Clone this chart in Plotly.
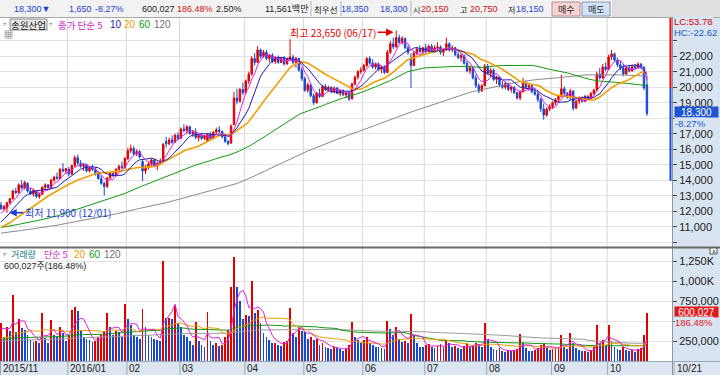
import plotly.graph_objects as go
import pandas as pd

W, H = 720, 375
FONT = "Liberation Sans, Noto Sans CJK KR, sans-serif"
KFONT = "Noto Sans CJK KR, Liberation Sans, sans-serif"
RED = "#e00000"
BLUE = "#1848d0"

# ---------------- data ----------------
holidays = ["2015-12-25", "2015-12-31", "2016-01-01", "2016-02-08", "2016-02-09", "2016-02-10",
            "2016-03-01", "2016-04-13", "2016-05-05", "2016-05-06", "2016-06-06", "2016-08-15",
            "2016-09-14", "2016-09-15", "2016-09-16", "2016-10-03"]
dates = [d for d in pd.bdate_range("2015-11-27", "2016-10-21") if d.strftime("%Y-%m-%d") not in holidays]

# prices in hundreds of won
opens_h = [124, 121.5, 122, 125.5, 128, 133, 132, 137, 135, 138,
           133, 131, 133, 129.5, 131, 135.5, 137, 135, 140, 142,
           141, 147, 146, 147, 144, 149.5, 154.5, 151, 149, 150,
           146, 148, 147, 144, 141, 138, 136, 141.5, 144.5, 143,
           147, 149, 148, 154, 159, 160.5, 157, 158.5, 152, 146,
           148, 150.5, 153, 149, 151, 152, 165, 163.5, 166, 164.5,
           169, 167, 173, 172, 174.5, 170, 171, 167.5, 169, 167,
           165.5, 169.5, 167, 171, 172.5, 171.5, 168, 165, 164, 176,
           193, 191, 198.5, 196.5, 204, 208.5, 218.5, 216, 224, 220,
           222.5, 218.5, 220.5, 216.5, 219, 216, 218.5, 215, 218, 219.5,
           216, 218.5, 211, 205.5, 198, 201.5, 194.5, 190, 196, 194,
           200.5, 198.5, 200, 197, 199.5, 196, 198, 195, 196.5, 192.5,
           202, 206.5, 210, 211, 214, 218.5, 215.5, 213, 215, 211.5,
           213, 209.5, 222.5, 228, 226, 232, 229, 231.5, 225.5, 218,
           214, 222, 224.5, 223, 225.5, 223, 226.5, 223.5, 225.5, 226,
           222.5, 224, 228, 224, 225.5, 221, 219, 220.5, 215.5, 210.5,
           212.5, 206, 201, 197.5, 201, 213.5, 209, 211, 205, 206.5,
           201.5, 200, 202.5, 198.5, 200, 196.5, 193, 197, 203, 200,
           201, 197, 195.5, 192, 186, 182, 186, 187.5, 190, 192,
           194, 199, 196, 193.5, 197.5, 186.5, 191, 192.5, 191, 194,
           192.5, 196, 198, 208.5, 206, 213, 211.5, 219.5, 221.5, 217.5,
           214.5, 212.5, 208.5, 212.5, 210.5, 213.5, 212.5, 215, 213, 201.5]
highs_h = [126, 124, 126, 128.5, 134, 135, 138, 140, 139.5, 138.5,
           135, 134, 133.5, 132, 136, 138, 137.5, 141, 143, 145,
           148, 151, 148, 148.5, 150, 156, 156.5, 153, 151, 150.5,
           149, 150, 148, 146, 143, 139, 142, 145, 146, 148,
           150, 152, 155, 161, 163, 162, 160, 159.5, 153, 150,
           152, 154, 153.5, 152, 154, 164, 168, 167.5, 169, 170,
           171, 174, 176, 175.5, 175, 172, 173.5, 170, 170, 169.5,
           170, 171, 171.5, 174, 175, 172, 168.5, 166, 176, 197,
           199, 199.5, 203, 205, 210, 220, 222, 226.5, 225, 224,
           224, 221.5, 222, 220, 220.5, 219.5, 220, 219, 231, 221,
           219.5, 219, 213, 207, 203, 202, 196, 197, 199, 201.5,
           202, 201, 200.5, 200.5, 200, 198.5, 198.5, 197, 197, 203,
           207.5, 211, 213, 215, 219.5, 220, 218, 216, 216, 214,
           214, 224, 230, 232, 236.5, 234, 233, 232, 227, 222,
           223, 226, 227, 226, 228, 227.5, 228, 227, 229, 227,
           225, 232, 229, 227, 226, 223.5, 222, 221, 217, 214,
           213, 208, 202.5, 202, 215, 215, 212.5, 212, 207.5, 207,
           204, 203.5, 203, 201, 200.5, 197, 198, 206, 204, 202,
           201.5, 199.5, 198, 193, 189.5, 187, 189, 191, 193, 195,
           208, 200.5, 197, 199, 198, 192, 194, 194, 195, 195,
           197, 199, 210, 212.5, 215, 216, 221, 224, 222.5, 219,
           217, 215, 213.5, 214, 214.5, 215, 216, 215.5, 213.5, 207.5]
lows_h = [121, 120.5, 119, 124.5, 127.5, 131, 131.5, 134, 134, 132,
          130.5, 129.5, 128.5, 128, 130.5, 134, 134.5, 134.5, 139, 140.5,
          140.5, 145, 144, 142.5, 143.5, 148.5, 150, 148, 146, 145,
          145, 146, 143, 140.5, 137, 130, 135, 140.5, 142, 142.5,
          145.5, 147, 147.5, 153, 157.5, 156, 155.5, 154, 139.5, 144,
          147, 149, 148.5, 146.5, 150, 151.5, 161, 162.5, 163.5, 164,
          166, 166.5, 171, 170, 169.5, 168, 166.5, 165, 166, 166,
          165, 166, 166.5, 170, 170.5, 167, 164, 162.5, 163.5, 175.5,
          189, 190, 195, 196, 202, 207.5, 214, 215.5, 218.5, 219,
          217.5, 216, 215.5, 215, 215, 215.5, 214, 214.5, 217, 215,
          212.5, 210, 204, 197, 196.5, 193.5, 188.5, 189.5, 193, 193.5,
          197.5, 197, 196.5, 196, 195.5, 194, 194.5, 193, 191, 192,
          201, 205, 208.5, 210, 213, 214.5, 212, 211.5, 210.5, 209,
          208.5, 209, 221.5, 224.5, 225.5, 228, 227.5, 224.5, 221, 199.5,
          213.5, 220.5, 222, 221.5, 222, 222.5, 222.5, 222, 224, 221,
          220, 223.5, 223, 222.5, 220, 218, 216.5, 214.5, 209.5, 208.5,
          205, 199.5, 196, 197, 200.5, 208, 206.5, 204, 202, 200,
          199, 198.5, 197.5, 196.5, 195.5, 192, 191.5, 196.5, 199, 197.5,
          196, 194.5, 190.5, 184, 179, 181, 184.5, 186, 188.5, 190.5,
          193.5, 194.5, 192.5, 191.5, 185, 186, 189, 190, 190.5, 191.5,
          192, 195, 197.5, 205, 205.5, 210.5, 211, 217.5, 216.5, 213,
          211, 207, 208, 209.5, 210, 211.5, 212, 211.5, 198, 181.5]
closes_h = [121.5, 123, 125.5, 128, 133, 132, 137, 135, 138.5, 133,
            131, 133.5, 129.5, 131, 135.5, 137, 135, 140, 142, 141,
            147, 146, 147.5, 144, 149.5, 154.5, 151, 149, 150, 146,
            148, 147, 144, 141, 138, 136, 141.5, 144.5, 143, 147,
            149, 148, 154, 159, 160.5, 157, 158.5, 155, 146, 148,
            150.5, 153, 149, 151, 152, 163, 163.5, 166, 164.5, 169,
            167, 173, 172, 174.5, 170, 171, 167.5, 169, 167, 168.5,
            169.5, 167, 171, 172.5, 171.5, 168, 165, 163.5, 175, 193,
            191, 198.5, 196.5, 204, 208.5, 218.5, 216, 224, 220, 222.5,
            218.5, 220.5, 216.5, 219, 216, 218.5, 215, 218, 219.5, 216,
            218.5, 211, 205.5, 198, 201.5, 194.5, 190, 196, 194, 200.5,
            198.5, 200, 197, 199.5, 196, 198, 195, 196.5, 192.5, 202,
            206.5, 210, 211, 214, 218.5, 215.5, 213, 215, 211.5, 213,
            209.5, 222.5, 228, 226, 232, 229, 231.5, 225.5, 222.5, 214,
            222, 224.5, 223, 225.5, 223, 226.5, 223.5, 225.5, 226, 222.5,
            224, 228, 224, 225.5, 221, 219, 220.5, 215.5, 210.5, 212.5,
            206, 201, 197.5, 201, 213.5, 209, 211, 205, 206.5, 201.5,
            200, 202.5, 198.5, 200, 196.5, 193, 197, 203, 200, 201,
            197, 195.5, 192, 186, 182, 186, 187.5, 190, 192, 194,
            199, 196, 193.5, 197.5, 186.5, 191, 192.5, 191, 194, 192.5,
            196, 198, 208.5, 206, 213, 211.5, 219.5, 221.5, 217.5, 214.5,
            212.5, 208.5, 212.5, 210.5, 213.5, 212.5, 215, 213, 199.5, 183]
# volume in thousands of shares
volumes_k = [475, 300, 420, 380, 825, 360, 520, 410, 390, 330,
             260, 240, 250, 220, 600, 290, 230, 510, 320, 300,
             420, 350, 250, 330, 640, 680, 620, 390, 300, 280,
             260, 240, 250, 300, 330, 380, 600, 420, 330, 380,
             360, 300, 710, 520, 450, 330, 300, 280, 650, 420,
             330, 300, 280, 260, 250, 1250, 540, 540, 520, 700,
             480, 420, 330, 300, 250, 200, 490, 250, 200, 180,
             610, 250, 200, 220, 190, 200, 300, 390, 925, 1300,
             930, 750, 520, 580, 560, 1000, 600, 640, 470, 350,
             300, 260, 220, 230, 200, 190, 240, 250, 660, 350,
             300, 420, 380, 360, 280, 300, 260, 280, 200, 230,
             180, 160, 150, 170, 160, 150, 130, 150, 200, 490,
             300, 260, 230, 260, 300, 220, 200, 180, 170, 160,
             150, 500, 400, 320, 420, 280, 240, 250, 220, 590,
             330, 220, 180, 170, 200, 210, 180, 160, 190, 210,
             180, 260, 220, 170, 190, 160, 150, 190, 220, 170,
             200, 230, 210, 180, 475, 260, 180, 150, 140, 160,
             120, 110, 130, 120, 140, 150, 340, 220, 160, 130,
             120, 140, 160, 200, 220, 180, 140, 150, 160, 170,
             320, 180, 150, 350, 220, 160, 140, 120, 130, 110,
             140, 170, 450, 230, 260, 200, 450, 250, 180, 150,
             140, 170, 140, 120, 140, 110, 150, 160, 321.767, 600.027]
# closes / volumes before the first visible day (only feed the moving averages)
pre_closes_h = [101, 102, 101.5, 100, 99.5, 100.5, 101, 102.5, 103, 102,
                101, 100.5, 101.5, 103, 104, 103.5, 102, 101, 100, 99,
                99.5, 100.5, 101.5, 102, 103, 104.5, 105, 104, 103, 102.5,
                101.5, 100.5, 100, 101, 102, 103.5, 104, 103, 102, 101,
                100, 99.5, 100, 101, 102.5, 103.5, 104, 103, 102, 101.5,
                102, 103, 104, 105, 106, 105.5, 104.5, 104, 105, 106,
                107, 108, 109, 110, 111, 110.5, 109.5, 110, 111.5, 112,
                111, 110, 109, 108.5, 109.5, 110.5, 111, 112, 111.5, 110.5,
                109.5, 109, 108, 108.5, 109.5, 110, 111, 110, 109, 108.5,
                108, 109, 110, 109.5, 108.5, 108, 107.5, 107, 106.5,
                106, 105.5, 106.5, 107, 106, 105.5, 106, 107, 107.5, 106.5,
                106, 105.5, 106, 106.5, 107,
                112, 114, 117, 119, 121]
pre_volumes_k = [220, 180, 200, 250, 190, 170, 210, 230, 260, 200,
                 180, 160, 190, 220, 240, 210, 180, 170, 200, 230,
                 250, 220, 190, 180, 200, 210, 260, 240, 200, 190,
                 170, 180, 210, 230, 220, 200, 190, 180, 210, 240,
                 260, 230, 200, 190, 210, 220, 250, 230, 210, 200,
                 220, 240, 270, 300, 280, 250, 230, 260, 280, 300,
                 290, 270, 250, 280, 320, 300, 270, 250, 260, 290,
                 310, 280, 260, 240, 270, 300, 320, 290, 260, 250,
                 270, 290, 300, 280, 260, 250, 270, 290, 280, 260,
                 250, 240, 260, 270, 250, 240, 230, 250, 240,
                 230, 220, 250, 240, 230, 220, 240, 260, 250, 230,
                 220, 240, 250, 260, 280,
                 260, 300, 420, 380, 450]

price_ticks = [10000, 11000, 12000, 13000, 14000, 15000, 16000, 17000, 18000,
               19000, 20000, 21000, 22000, 23000]
price_tick_text = ["", "11,000", "12,000", "13,000", "14,000", "15,000", "16,000", "17,000", "",
                   "19,000", "20,000", "21,000", "22,000", ""]
vol_ticks = [250000, 500000, 750000, 1000000, 1250000]
vol_tick_text = ["250,000", "", "750,000", "1,000K", "1,250K"]

# ---------------- derived ----------------
n = min(len(dates), len(opens_h), len(highs_h), len(lows_h), len(closes_h), len(volumes_k))
opens = [v * 100 for v in opens_h[:n]]
highs = [v * 100 for v in highs_h[:n]]
lows = [v * 100 for v in lows_h[:n]]
closes = [v * 100 for v in closes_h[:n]]
volumes = [v * 1000 for v in volumes_k[:n]]
xs = list(range(n))

full_c = pd.Series([v * 100 for v in pre_closes_h] + closes)
full_v = pd.Series([v * 1000 for v in pre_volumes_k] + volumes)
npc, npv = len(pre_closes_h), len(pre_volumes_k)


def ma(series, w, npre):
    return series.rolling(w, min_periods=1).mean().iloc[npre:].tolist()


vol_colors = [RED if i == 0 or volumes[i] >= volumes[i - 1] else BLUE for i in range(n)]

X0, X1 = -0.34, 227.5
PLOT_R = 672
P_TOP, P_BOT = 18, 247
V_BOT = 361
PY_TOP = 24465
PY_BOT = 9691
VY_TOP = 1425000


def px_of_idx(i):
    return (i - X0) / (X1 - X0) * PLOT_R


fig = go.Figure()

fig.add_trace(go.Candlestick(
    x=xs, open=opens, high=highs, low=lows, close=closes, xaxis="x", yaxis="y",
    increasing=dict(line=dict(color=RED, width=1), fillcolor=RED),
    decreasing=dict(line=dict(color=BLUE, width=1), fillcolor=BLUE),
    whiskerwidth=0, hoverinfo="skip", showlegend=False))

ma_specs = [(120, "#8a8a8a", 1), (60, "#109a10", 1), (20, "#f0a000", 1.6), (10, "#1c1cb0", 1), (5, "#e020e0", 1)]
for w, col, lw in ma_specs:
    fig.add_trace(go.Scatter(x=xs, y=ma(full_c, w, npc), mode="lines", line=dict(color=col, width=lw),
                             xaxis="x", yaxis="y", hoverinfo="skip", showlegend=False))

fig.add_trace(go.Bar(x=xs, y=volumes, marker=dict(color=vol_colors, line=dict(width=0)), width=0.62,
                     xaxis="x2", yaxis="y2", hoverinfo="skip", showlegend=False))
vma_specs = [(120, "#9a9a9a", 1), (60, "#109a10", 1), (20, "#f0a000", 1), (5, "#e020e0", 1)]
for w, col, lw in vma_specs:
    fig.add_trace(go.Scatter(x=xs, y=ma(full_v, w, npv), mode="lines", line=dict(color=col, width=lw),
                             xaxis="x2", yaxis="y2", hoverinfo="skip", showlegend=False))

fig.update_layout(
    width=W, height=H, margin=dict(l=0, r=0, t=0, b=0),
    paper_bgcolor="white", plot_bgcolor="white", showlegend=False, bargap=0,
    font=dict(family=FONT, size=10, color="#222"),
    xaxis=dict(domain=[0, PLOT_R / W], range=[X0, X1], showgrid=False, showticklabels=False,
               zeroline=False, rangeslider=dict(visible=False), anchor="y", fixedrange=True),
    xaxis2=dict(domain=[0, PLOT_R / W], range=[X0, X1], matches="x", showgrid=False,
                showticklabels=False, zeroline=False, anchor="y2"),
    yaxis=dict(domain=[1 - P_BOT / H, 1 - P_TOP / H], range=[PY_BOT, PY_TOP], side="right",
               tickvals=price_ticks, ticktext=price_tick_text, ticks="outside", ticklen=4,
               tickcolor="#444", gridcolor="#e2e2e2", zeroline=False, showline=False,
               tickfont=dict(size=11, color="#222", family=FONT), anchor="x"),
    yaxis2=dict(domain=[1 - V_BOT / H, 1 - P_BOT / H], range=[0, VY_TOP], side="right",
                tickvals=vol_ticks, ticktext=vol_tick_text, ticks="outside", ticklen=4,
                tickcolor="#444", gridcolor="#e2e2e2", zeroline=False, showline=False,
                tickfont=dict(size=11, color="#222", family=FONT), anchor="x2"),
)


def rect(x0, y0, x1, y1, fill, line=None, layer="below"):
    fig.add_shape(type="rect", xref="paper", yref="paper", x0=x0 / W, x1=x1 / W, y0=1 - y1 / H, y1=1 - y0 / H,
                  fillcolor=fill, line=dict(width=1 if line else 0, color=line or fill), layer=layer)


def hline(x0, x1, y, color, width=1, layer="above"):
    fig.add_shape(type="line", xref="paper", yref="paper", x0=x0 / W, x1=x1 / W, y0=1 - y / H, y1=1 - y / H,
                  line=dict(color=color, width=width), layer=layer)


def vline(x, y0, y1, color, width=1, layer="above"):
    fig.add_shape(type="line", xref="paper", yref="paper", x0=x / W, x1=x / W, y0=1 - y0 / H, y1=1 - y1 / H,
                  line=dict(color=color, width=width), layer=layer)


def note(px, py, text, color="#000", size=10, anchor="left", bg=None, border=None, family=FONT, **kw):
    fig.add_annotation(x=px / W, y=1 - py / H, xref="paper", yref="paper", text=text, showarrow=False,
                       xanchor=anchor, yanchor="middle", font=dict(color=color, size=size, family=family),
                       bgcolor=bg, bordercolor=border, borderpad=0, **kw)


# backgrounds
rect(0, 0, W, 17, "#f2f2f2")
rect(612, 0, W, 17, "#dedede")
hline(0, W, 17.5, "#a8a8a8")
rect(PLOT_R, P_TOP, W, V_BOT, "#d8e4f0")
rect(0, V_BOT, W, H, "#dce6f1")
hline(0, W, V_BOT + 0.5, "#9aa8b8")
vline(PLOT_R + 0.5, P_TOP, H, "#8c98a8")
hline(0, W, P_BOT + 0.5, "#6a6a6a", 2)

# month separators and labels (first partial months share the first label)
month_starts = [i for i in range(n) if i == 0 or (dates[i].month != dates[i - 1].month and i >= 10)]
for i in month_starts:
    d = dates[i]
    bx = 0 if i == 0 else px_of_idx(i - 0.5)
    if i > 0:
        vline(bx, P_TOP, V_BOT, "#d6d6d6", 1, layer="below")
    vline(bx + 0.5, V_BOT, H, "#9aa8b8")
    label = d.strftime("%Y/%m") if (i == 0 or d.month == 1) else d.strftime("%m")
    note(bx + 1.5, 368, label, "#222", 10)
vline(PLOT_R + 2, V_BOT, H, "#9aa8b8")
note(676, 368, dates[n - 1].strftime("%m/%d"), "#222", 10)

# price limit band on right edge
prev_close = closes[n - 2]
fig.add_shape(type="line", xref="paper", yref="y", x0=670.5 / W, x1=670.5 / W, y0=prev_close,
              y1=min(prev_close * 1.3, PY_TOP), line=dict(color="#e00000", width=2))
fig.add_shape(type="line", xref="paper", yref="y", x0=670.5 / W, x1=670.5 / W, y0=max(prev_close * 0.7, PY_BOT),
              y1=prev_close, line=dict(color="#1848d0", width=2))

# header (right edges follow the reference)
last_c, last_o = closes[n - 1], opens[n - 1]
chg = last_c - prev_close
pct = chg / prev_close * 100
vol_ratio = volumes[n - 1] / volumes[n - 2] * 100
HS = 9
note(51, 9, f"{last_c:,.0f}▼", "#1c3fd0", HS, anchor="right")
note(93, 9, f"{abs(chg):,.0f}", "#1c3fd0", HS, anchor="right")
note(125, 9, f"{pct:.2f}%", "#1c3fd0", HS, anchor="right")
note(176, 9, f"{volumes[n-1]:,.0f}", "#222", HS, anchor="right")
note(214, 9, f"{vol_ratio:.2f}%", "#d01010", HS, anchor="right")
note(243, 9, "2.50%", "#222", HS, anchor="right")
note(309, 9, "11,561백만", "#222", HS, anchor="right")
vline(311, 1, 16, "#b8b8b8")
note(313, 9, "최우선", "#222", 8.5, family=KFONT)
vline(341, 1, 16, "#b8b8b8")
note(370, 9, "18,350", "#1c3fd0", HS, anchor="right")
note(409, 9, "18,300", "#1c3fd0", HS, anchor="right")
vline(411, 1, 16, "#b8b8b8")
note(411.5, 9, "시", "#222", 8, family=KFONT)
note(450, 9, f"{last_o:,.0f}", "#d01010", HS, anchor="right")
note(459, 9, "고", "#222", 8, family=KFONT)
note(499, 9, f"{highs[n-1]:,.0f}", "#d01010", HS, anchor="right")
note(507, 9, "저", "#222", 8, family=KFONT)
note(545, 9, f"{lows[n-1]:,.0f}", "#1c3fd0", HS, anchor="right")
rect(552, 2, 580, 16, "#f6d2d0", "#b09090", layer="above")
note(566, 9, "매수", "#222", 9, anchor="center", family=KFONT)
rect(582, 2, 610, 16, "#d2e2f6", "#8898b0", layer="above")
note(596, 9, "매도", "#222", 9, anchor="center", family=KFONT)

# price legend
note(2, 24, "▫", "#555", 9)
rect(10, 19, 47, 30, "#e6e6e6", "#8c8c8c", layer="above")
note(28.5, 24.5, "송원산업", "#222", 9.5, anchor="center", family=KFONT)
note(48, 24, "▫", "#555", 9)
note(57, 24.5, "종가 단순 5", "#d020c8", 9.5, family=KFONT)
note(109, 24.5, "10", "#1c1cb0", 10)
note(123, 24.5, "20", "#f0a000", 10)
note(138, 24.5, "60", "#109a10", 10)
note(153, 24.5, "120", "#707070", 10)
note(3, 35, "▦", "#333", 9)

# volume legend
note(2, 254, "▫", "#555", 9)
note(10, 254, "거래량", "#108080", 9, family=KFONT)
note(43, 254, "단순 5", "#d020c8", 9, family=KFONT)
note(73, 254, "20", "#f0a000", 10)
note(88, 254, "60", "#109a10", 10)
note(103, 254, "120", "#707070", 10)
note(3, 266, f"{volumes[n-1]:,.0f}주({vol_ratio:.2f}%)", "#222", 9)

# high / low markers
pk = max(range(n), key=lambda i: highs[i])
lw_ = min(range(n), key=lambda i: lows[i])
fig.add_annotation(x=pk - 0.9, y=highs[pk] - 100, xref="x", yref="y",
                   text=f"최고 {highs[pk]:,.0f} ({dates[pk].strftime('%m/%d')})",
                   showarrow=True, arrowhead=2, arrowsize=1, arrowwidth=1.5, arrowcolor="#e00000",
                   ax=-16, ay=0, xanchor="right", font=dict(color="#e00000", size=10, family=KFONT))
fig.add_annotation(x=lw_ + 0.8, y=lows[lw_], xref="x", yref="y",
                   text=f"최저 {lows[lw_]:,.0f} ({dates[lw_].strftime('%m/%d')})",
                   showarrow=True, arrowhead=2, arrowsize=1, arrowwidth=1.5, arrowcolor="#1c3fd0",
                   ax=14, ay=0, xanchor="left", font=dict(color="#1c3fd0", size=10, family=KFONT))

# right side labels
note(673, 22, "LC:53.78", "#e00000", 9.5, bg="#d8e4f0")
note(673, 33, "HC:-22.62", "#1c5ad0", 9.5, bg="#d8e4f0")
fig.add_annotation(x=696 / W, y=last_c, xref="paper", yref="y", text=f"{last_c:,.0f}", showarrow=False,
                   xanchor="center", yanchor="middle", bgcolor="#1f55d0", width=43, height=10,
                   font=dict(color="white", size=10, family=FONT), borderpad=0, yshift=1.5)
fig.add_annotation(x=674 / W, y=last_c, xref="paper", yref="y", text=f"{pct:.2f}%", showarrow=False,
                   xanchor="left", yanchor="middle", yshift=-9.5, bgcolor="#d8e4f0",
                   font=dict(color="#1c5ad0", size=9.5, family=FONT), borderpad=0)
fig.add_annotation(x=696 / W, y=volumes[n - 1], xref="paper", yref="y2", text=f"{volumes[n-1]:,.0f}",
                   showarrow=False, xanchor="center", yanchor="middle", bgcolor="#e01818", width=43, height=10,
                   font=dict(color="white", size=10, family=FONT), borderpad=0, yshift=1.5)
fig.add_annotation(x=674 / W, y=volumes[n - 1], xref="paper", yref="y2", text=f"{vol_ratio:.2f}%",
                   showarrow=False, xanchor="left", yanchor="middle", yshift=-9.5, bgcolor="#d8e4f0",
                   font=dict(color="#e01818", size=9.5, family=FONT), borderpad=0)
rect(710, 248, 717, 254, "white", "#555", layer="above")
note(713.5, 251, "×", "#222", 7, anchor="center")

fig.write_html("out.html", config={"displayModeBar": False, "staticPlot": True},
               post_script="document.body.style.margin='0';document.body.style.overflow='hidden';")
